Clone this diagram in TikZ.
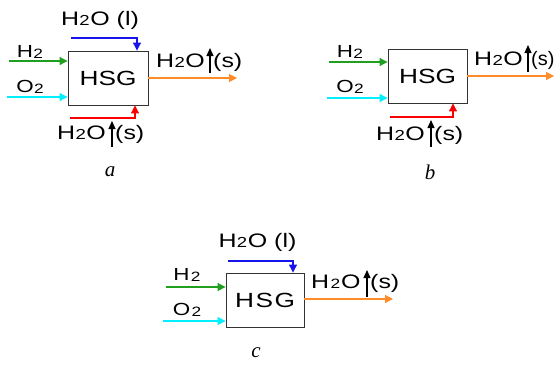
\documentclass[tikz,border=0pt]{standalone}
\usepackage{fontspec}
\setmainfont{Liberation Sans}[FakeStretch=1.28]
\newfontfamily\capfont{Liberation Serif}
\usetikzlibrary{arrows.meta}
\newcommand\hwo{H\kern0.3pt\raisebox{-0.6pt}{\fontsize{14.5}{14.5}\selectfont 2}\kern0.6pt O}
\newcommand\sub[1]{\kern0.3pt\raisebox{-0.6pt}{\fontsize{13.5}{13.5}\selectfont #1}}
\definecolor{cgreen}{RGB}{30,160,30}
\definecolor{ccyan}{RGB}{0,240,255}
\definecolor{cblue}{RGB}{20,20,235}
\definecolor{cred}{RGB}{250,0,0}
\definecolor{corange}{RGB}{255,140,40}
\tikzset{
  x=1pt, y=-1pt,
  flow/.style={line width=1.1pt, -{Triangle[length=8pt,width=8pt]}},
  upar/.style={line width=1.2pt, black, -{Triangle[length=8pt,width=7pt]}},
  hsg/.style={draw=black!80, line width=0.9pt, inner sep=0pt, font=\fontsize{20.5}{20.5}\selectfont},
  lbl/.style={inner sep=0pt, font=\fontsize{19.5}{19.5}\selectfont},
  slbl/.style={inner sep=0pt, font=\fontsize{17.5}{17.5}\selectfont},
  captxt/.style={inner sep=0pt, font=\capfont\itshape\fontsize{21}{21}\selectfont},
}
\begin{document}
\begin{tikzpicture}
\useasboundingbox (0,0) rectangle (556,365);
% ---------------- panel a
\node[hsg, minimum width=80pt, minimum height=54pt] (boxa) at (108,78) {HSG};
\coordinate (ah2) at (9,61);
\coordinate (ao2) at (7,97);
\draw[flow, cgreen] (ah2) -- (ah2 -| boxa.west);
\draw[flow, ccyan] (ao2) -- (ao2 -| boxa.west);
\node[slbl] (ah2l) at (30,52) {H\sub{2}};
\node[slbl] (ao2l) at (30,87) {O\sub{2}};
\coordinate (abs) at (71,38);
\coordinate (abc) at (137,38);
\draw[flow, cblue] (abs) -- (abc) -- (abc |- boxa.north);
\node[lbl] (abl) at (100,20) {\hwo\hspace{7pt}(l)};
\coordinate (ars) at (70,118);
\coordinate (arc) at (135,118);
\draw[flow, cred] (ars) -- (arc) -- (arc |- boxa.south);
\node[lbl, anchor=base west] (arl1) at (57,139) {\hwo};
\coordinate (arab) at (112,147);
\coordinate (arat) at (112,121);
\draw[upar] (arab) -- (arat);
\node[lbl, anchor=base west] (arl2) at (115,139) {(s)};
\coordinate (aoe) at (237,78);
\draw[flow, corange] (aoe -| boxa.east) -- (aoe);
\node[lbl, anchor=base west] (aol1) at (156,67) {\hwo};
\coordinate (aoab) at (210,73);
\coordinate (aoat) at (210,48);
\draw[upar] (aoab) -- (aoat);
\node[lbl, anchor=base west] (aol2) at (213,67) {(s)};
\node[captxt] (capa) at (110,172) {a};
% ---------------- panel b
\node[hsg, minimum width=79pt, minimum height=54pt] (boxb) at (427.5,76) {HSG};
\coordinate (bh2) at (329,62);
\coordinate (bo2) at (327,98);
\draw[flow, cgreen] (bh2) -- (bh2 -| boxb.west);
\draw[flow, ccyan] (bo2) -- (bo2 -| boxb.west);
\node[slbl] (bh2l) at (350,52) {H\sub{2}};
\node[slbl] (bo2l) at (350,87) {O\sub{2}};
\coordinate (brs) at (390,117);
\coordinate (brc) at (453,117);
\draw[flow, cred] (brs) -- (brc) -- (brc |- boxb.south);
\node[lbl, anchor=base west] (brl1) at (376,140) {\hwo};
\coordinate (brab) at (431,147);
\coordinate (brat) at (431,120);
\draw[upar] (brab) -- (brat);
\node[lbl, anchor=base west] (brl2) at (434,140) {(s)};
\coordinate (boe) at (554,76);
\draw[flow, corange] (boe -| boxb.east) -- (boe);
\node[lbl, anchor=base west] (bol1) at (474,65) {\hwo};
\coordinate (boab) at (528,72);
\coordinate (boat) at (528,45);
\draw[upar] (boab) -- (boat);
\node[lbl, anchor=base west] (bol2) at (531,65) {\scalebox{0.8}[1]{(s)}};
\node[captxt] (capb) at (430,172) {b};
% ---------------- panel c
\node[hsg, minimum width=78pt, minimum height=54pt] (boxc) at (265,300) {H\kern1.5pt S\kern1.5pt G};
\coordinate (ch2) at (166,287);
\coordinate (co2) at (163,321);
\draw[flow, cgreen] (ch2) -- (ch2 -| boxc.west);
\draw[flow, ccyan] (co2) -- (co2 -| boxc.west);
\node[slbl] (ch2l) at (187,275) {H\kern1pt\sub{2}};
\node[slbl] (co2l) at (187,310) {O\kern1pt\sub{2}};
\coordinate (cbs) at (228,261);
\coordinate (cbc) at (293,261);
\draw[flow, cblue] (cbs) -- (cbc) -- (cbc |- boxc.north);
\node[lbl] (cbl) at (257.5,242) {\hwo\hspace{7pt}(l)};
\coordinate (coe) at (393,299);
\draw[flow, corange] (coe -| boxc.east) -- (coe);
\node[lbl, anchor=base west] (col1) at (311,288) {H\kern1pt\sub{2}\kern1pt O};
\coordinate (coab) at (367,297);
\coordinate (coat) at (367,270);
\draw[upar] (coab) -- (coat);
\node[lbl, anchor=base west] (col2) at (370,288) {(s)};
\node[captxt] (capc) at (256,353) {c};
\end{tikzpicture}
\end{document}
